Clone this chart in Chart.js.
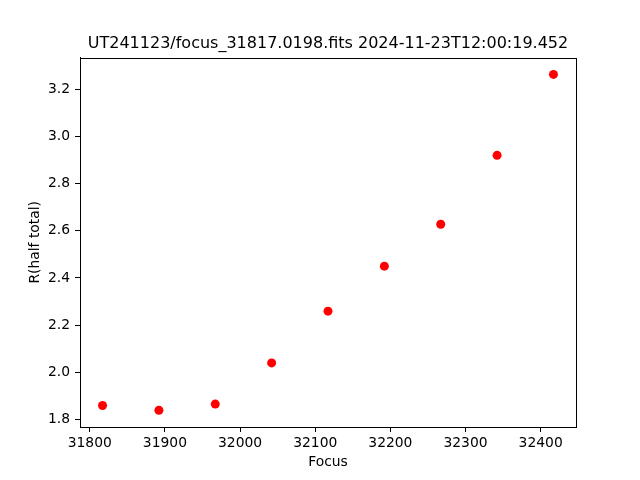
<!DOCTYPE html>
<html>
<head>
<meta charset="utf-8">
<script src="https://cdn.jsdelivr.net/npm/chart.js@4/dist/chart.umd.min.js"></script>
<style>
  html, body { margin: 0; padding: 0; background: #fff; }
  #wrap { width: 640px; height: 480px; }
</style>
</head>
<body>
<div id="wrap"><canvas id="focus-chart" width="640" height="480"></canvas></div>
<script>
// focus positions and measured half-total radius
var focus = [31817, 31892, 31967, 32042, 32117, 32192, 32267, 32342, 32417];
var rHalf = [1.858, 1.838, 1.864, 2.039, 2.259, 2.450, 2.628, 2.921, 3.265];
var xTicks = [31800, 31900, 32000, 32100, 32200, 32300, 32400];
var yTicks = [1.8, 2.0, 2.2, 2.4, 2.6, 2.8, 3.0, 3.2];

var titleText = 'UT241123/focus_31817.0198.fits 2024-11-23T12:00:19.452';

// matplotlib style 5% margins
function pad(arr) {
  var lo = Math.min.apply(null, arr), hi = Math.max.apply(null, arr);
  var m = (hi - lo) * 0.05;
  return [lo - m, hi + m];
}
var xr = pad(focus), yr = pad(rHalf);

var pts = focus.map(function (f, i) { return { x: f, y: rHalf[i] }; });

var FONT = 'DejaVu Sans';

// full box around plot area
var frame = {
  id: 'frame',
  afterDraw: function (chart) {
    var a = chart.chartArea, ctx = chart.ctx;
    ctx.save();
    ctx.strokeStyle = '#000';
    ctx.lineWidth = 1;
    ctx.strokeRect(Math.round(a.left) + 0.5, Math.round(a.top) + 0.5,
      Math.round(a.right - a.left), Math.round(a.bottom - a.top));
    ctx.restore();
  }
};

new Chart(document.getElementById('focus-chart'), {
  type: 'scatter',
  data: {
    datasets: [{
      data: pts,
      backgroundColor: '#ff0000',
      borderWidth: 0,
      pointRadius: 4.5,
      pointHoverRadius: 4.5
    }]
  },
  options: {
    responsive: false,
    animation: false,
    events: [],
    layout: { padding: { left: 0, right: 64, top: 34, bottom: 0 } },
    plugins: {
      legend: { display: false },
      tooltip: { enabled: false },
      title: {
        display: true,
        fullSize: false,
        text: titleText,
        color: '#000',
        font: { family: FONT, size: 16, weight: 'normal' },
        padding: { top: 0, bottom: 4.4 }
      }
    },
    scales: {
      x: {
        type: 'linear',
        min: xr[0],
        max: xr[1],
        afterFit: function (s) { s.height = 53; },
        afterBuildTicks: function (s) { s.ticks = xTicks.map(function (v) { return { value: v }; }); },
        grid: { display: true, drawOnChartArea: false, drawTicks: true, tickLength: 5, color: '#000' },
        border: { display: true, color: '#000' },
        ticks: {
          color: '#000',
          padding: 3,
          maxRotation: 0,
          font: { family: FONT, size: 13.89 },
          callback: function (v) { return String(v); }
        },
        title: {
          display: true,
          text: 'Focus',
          color: '#000',
          font: { family: FONT, size: 13.89 },
          padding: { top: 0, bottom: 9.7 }
        }
      },
      y: {
        type: 'linear',
        min: yr[0],
        max: yr[1],
        afterFit: function (s) { s.width = 80; },
        afterBuildTicks: function (s) { s.ticks = yTicks.map(function (v) { return { value: v }; }); },
        grid: { display: true, drawOnChartArea: false, drawTicks: true, tickLength: 5, color: '#000' },
        border: { display: true, color: '#000' },
        ticks: {
          color: '#000',
          padding: 5,
          font: { family: FONT, size: 13.89 },
          callback: function (v) { return v.toFixed(1); }
        },
        title: {
          display: true,
          text: 'R(half total)',
          color: '#000',
          font: { family: FONT, size: 13.89 },
          padding: { top: 26.7, bottom: 0 }
        }
      }
    }
  },
  plugins: [frame]
});
</script>
</body>
</html>
